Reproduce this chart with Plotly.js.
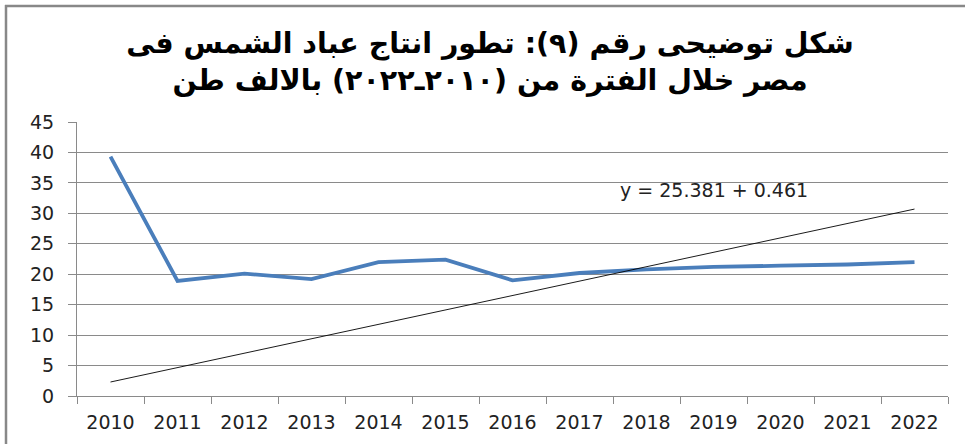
<!DOCTYPE html>
<html>
<head>
<meta charset="utf-8">
<script src="https://cdn.plot.ly/plotly-3.0.1.min.js"></script>
<style>
html,body{margin:0;padding:0;background:#fff;}
#chart{width:965px;height:444px;}
</style>
</head>
<body>
<div id="chart"></div>
<script>
// Data
const years = ['2010','2011','2012','2013','2014','2015','2016','2017','2018','2019','2020','2021','2022'];
const production = [39.3, 18.9, 20.1, 19.2, 22.0, 22.4, 19.0, 20.2, 20.8, 21.2, 21.4, 21.6, 22.0];
const trendYears = ['2010', '2022'];
const trendValues = [2.3, 30.7];
const trendLabel = 'y = 25.381 + 0.461';
const titleText = 'شكل توضيحى رقم (٩): تطور انتاج عباد الشمس فى<br>مصر خلال الفترة من (٢٠١٠ـ٢٠٢٢) بالالف طن';

const W = 965, H = 444;
const m = {l: 77, r: 17, t: 122, b: 48};
const pw = W - m.l - m.r, ph = H - m.t - m.b;
const px = v => (v - m.l) / pw;
const py = v => 1 - (v - m.t) / ph;

const traces = [
  {
    type: 'scatter', mode: 'lines', x: years, y: production,
    line: {color: '#4a7ebb', width: 3.8}, hoverinfo: 'x+y'
  },
  {
    type: 'scatter', mode: 'lines', x: trendYears, y: trendValues,
    line: {color: '#000000', width: 0.9}, hoverinfo: 'skip'
  }
];

const gridColor = '#8a8a8a';
const tickFont = {family: 'DejaVu Sans, Verdana, sans-serif', size: 19, color: '#222'};
const layout = {
  width: W, height: H,
  margin: m,
  paper_bgcolor: '#ffffff', plot_bgcolor: '#ffffff',
  showlegend: false,
  title: {
    text: titleText,
    x: 490 / W, xref: 'container', xanchor: 'center',
    y: 1 - 53 / H, yref: 'container', yanchor: 'middle',
    font: {family: 'DejaVu Sans, Arial, sans-serif', size: 28.5, color: '#000', weight: 'bold'}
  },
  xaxis: {
    type: 'category', range: [-0.5, 12.5],
    showgrid: false, zeroline: false,
    showline: true, linecolor: gridColor, linewidth: 1,
    ticks: 'outside', tickson: 'boundaries', ticklen: 7, tickcolor: gridColor, tickwidth: 1,
    tickfont: tickFont,
    ticklabelstandoff: 9,
    fixedrange: true
  },
  yaxis: {
    range: [0, 45], dtick: 5, tick0: 0,
    showgrid: true, gridcolor: gridColor, gridwidth: 1,
    zeroline: false,
    showline: true, linecolor: gridColor, linewidth: 1,
    ticks: 'outside', ticklen: 8, tickcolor: gridColor, tickwidth: 1,
    tickfont: tickFont,
    ticklabelstandoff: 10,
    fixedrange: true
  },
  annotations: [{
    text: trendLabel, x: 9, y: 33.9, xref: 'x', yref: 'y',
    showarrow: false, xanchor: 'center', yanchor: 'middle',
    font: {family: 'DejaVu Sans, sans-serif', size: 19, color: '#222'}
  }],
  shapes: [
    {type: 'line', xref: 'paper', yref: 'paper', x0: px(6), x1: px(6), y0: py(5), y1: py(450),
     line: {color: '#888888', width: 2.5}},
    {type: 'line', xref: 'paper', yref: 'paper', x0: px(5), x1: px(970), y0: py(6), y1: py(6),
     line: {color: '#888888', width: 2.5}}
  ]
};

Plotly.newPlot('chart', traces, layout, {staticPlot: true, displayModeBar: false});
</script>
</body>
</html>
